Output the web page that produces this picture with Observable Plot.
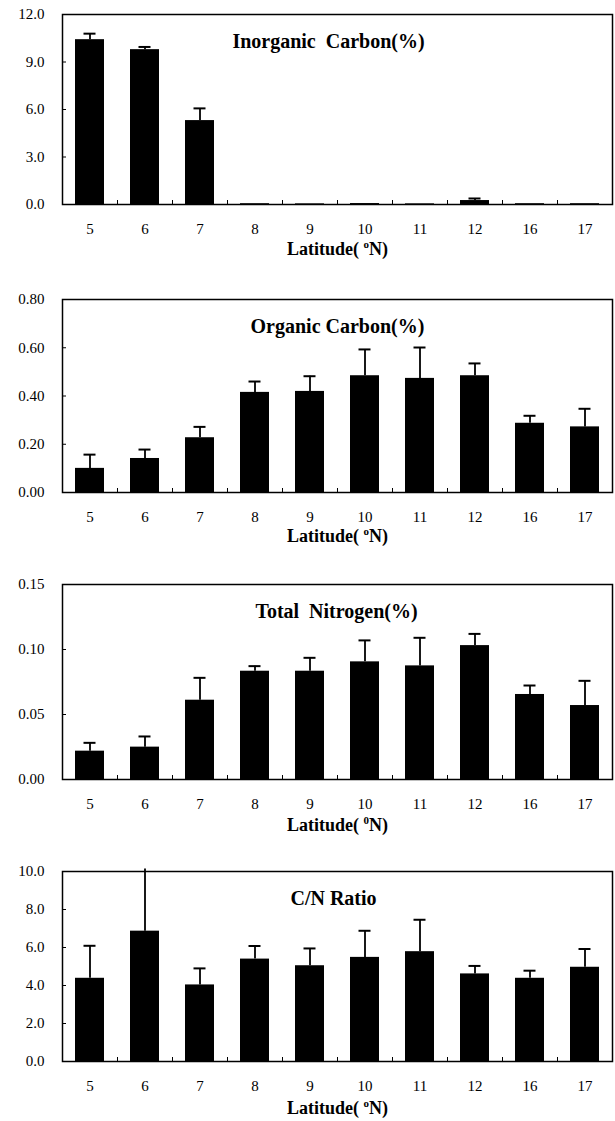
<!DOCTYPE html>
<html><head><meta charset="utf-8">
<script src="https://cdn.jsdelivr.net/npm/d3@7"></script>
<script src="https://cdn.jsdelivr.net/npm/@observablehq/plot@0.6"></script>
<style>
body{margin:0;background:#fff;}
#chart{width:615px;}
#chart svg{display:block;}
</style></head><body><div id="chart"></div>
<script>
const latitudes = ["5","6","7","8","9","10","11","12","16","17"];

const inorganicC    = [10.41, 9.78, 5.30, 0.05, 0.04, 0.06, 0.04, 0.25, 0.05, 0.05];
const inorganicCErr = [10.79, 9.95, 6.07, 0.05, 0.04, 0.06, 0.04, 0.38, 0.05, 0.05];

const organicC    = [0.100, 0.141, 0.227, 0.415, 0.419, 0.484, 0.473, 0.484, 0.287, 0.272];
const organicCErr = [0.157, 0.178, 0.272, 0.460, 0.482, 0.593, 0.601, 0.535, 0.318, 0.347];

const totalN    = [0.0218, 0.0249, 0.0610, 0.0833, 0.0833, 0.0905, 0.0874, 0.1030, 0.0654, 0.0569];
const totalNErr = [0.0282, 0.0331, 0.0782, 0.0872, 0.0936, 0.1070, 0.1090, 0.1120, 0.0723, 0.0759];

const cnRatio    = [4.38, 6.86, 4.03, 5.39, 5.04, 5.48, 5.78, 4.61, 4.38, 4.96];
const cnRatioErr = [6.09, 10.13, 4.90, 6.08, 5.95, 6.88, 7.46, 5.03, 4.78, 5.92];

const titles = ["Inorganic\u00a0\u00a0Carbon(%)", "Organic Carbon(%)", "Total\u00a0\u00a0Nitrogen(%)", "C/N Ratio"];
const yTickValues = [[0, 3, 6, 9, 12], [0, 0.2, 0.4, 0.6, 0.8], [0, 0.05, 0.10, 0.15], [0, 2, 4, 6, 8, 10]];
const yTickFormats = [".1f", ".2f", ".2f", ".1f"];
const xLabelStart = "Latitude( ";
const xLabelSup = ["o", "o", "0", "o"];
const xLabelEnd = "N)";

const seriesValues = [inorganicC, organicC, totalN, cnRatio];
const seriesErrors = [inorganicCErr, organicCErr, totalNErr, cnRatioErr];

// layout
const W = 615, ML = 62, MR = 3;
const heights = [285, 286, 286, 264];
const mTop = [14, 14, 13, 14];
const mBottom = [81, 79, 78, 60];
const labelDy = [50, 49, 51, 52];
const titleDx = [-9, 0, -1, -4];
const step = (W - ML - MR) / latitudes.length;
const FONT = "'Liberation Serif', 'Times New Roman', serif";

const root = document.getElementById("chart");

seriesValues.forEach((vals, p) => {
  const data = latitudes.map((lat, i) => ({lat, v: vals[i], e: seriesErrors[p][i]}));
  const yTicks = yTickValues[p];
  const yMax = yTicks[yTicks.length - 1];
  const plotH = heights[p] - mTop[p] - mBottom[p];
  const plotW = W - ML - MR;
  const fullLabel = xLabelStart + xLabelSup[p] + xLabelEnd;
  const svg = Plot.plot({
    width: W,
    height: heights[p],
    marginLeft: ML,
    marginRight: MR,
    marginTop: mTop[p],
    marginBottom: mBottom[p],
    style: {fontFamily: FONT, fontSize: "15px", color: "black", background: "white", overflow: "visible"},
    x: {type: "band", domain: latitudes, padding: 0.47, paddingOuter: 0.235, align: 0.5},
    y: {domain: [0, yMax]},
    marks: [
      Plot.barY(data, {x: "lat", y: "v", fill: "black"}),
      Plot.ruleX(data, {x: "lat", y1: "v", y2: "e", stroke: "black", strokeWidth: 1.8}),
      Plot.tickY(data.filter(d => d.e <= yMax && d.e > d.v + 1e-9), {x: "lat", y: "e", stroke: "black", strokeWidth: 2, insetLeft: 8.5, insetRight: 8.5}),
      Plot.ruleX(latitudes.slice(0, -1), {x: d => d, dx: step / 2, insetTop: plotH - 4, stroke: "black", strokeWidth: 1}),
      Plot.ruleY(yTicks, {y: d => d, insetRight: plotW - 4, stroke: "black", strokeWidth: 1}),
      Plot.frame({stroke: "black", strokeWidth: 1.5}),
      Plot.axisY({ticks: yTicks, tickFormat: d3.format(yTickFormats[p]), tickSize: 0, tickPadding: 18, fontSize: 15, label: null}),
      Plot.axisX({tickSize: 0, tickPadding: 19, fontSize: 15, label: null}),
      Plot.text([titles[p]], {frameAnchor: "top", dy: 19, dx: titleDx[p], fontSize: 20, fontWeight: "bold", fill: "black"}),
      Plot.text([fullLabel], {frameAnchor: "bottom", dy: labelDy[p], fontSize: 18, fontWeight: "bold", fill: "black"})
    ]
  });
  // superscript degree marker in axis label
  svg.querySelectorAll("text").forEach(t => {
    if (t.textContent === fullLabel) {
      const ns = "http://www.w3.org/2000/svg";
      t.textContent = "";
      const a = document.createElementNS(ns, "tspan");
      a.textContent = xLabelStart;
      const b = document.createElementNS(ns, "tspan");
      b.textContent = xLabelSup[p];
      b.setAttribute("dy", "-7");
      b.setAttribute("font-size", "11");
      const c = document.createElementNS(ns, "tspan");
      c.textContent = xLabelEnd;
      c.setAttribute("dy", "7");
      t.append(a, b, c);
    }
  });
  root.appendChild(svg);
});
</script>
</body></html>
